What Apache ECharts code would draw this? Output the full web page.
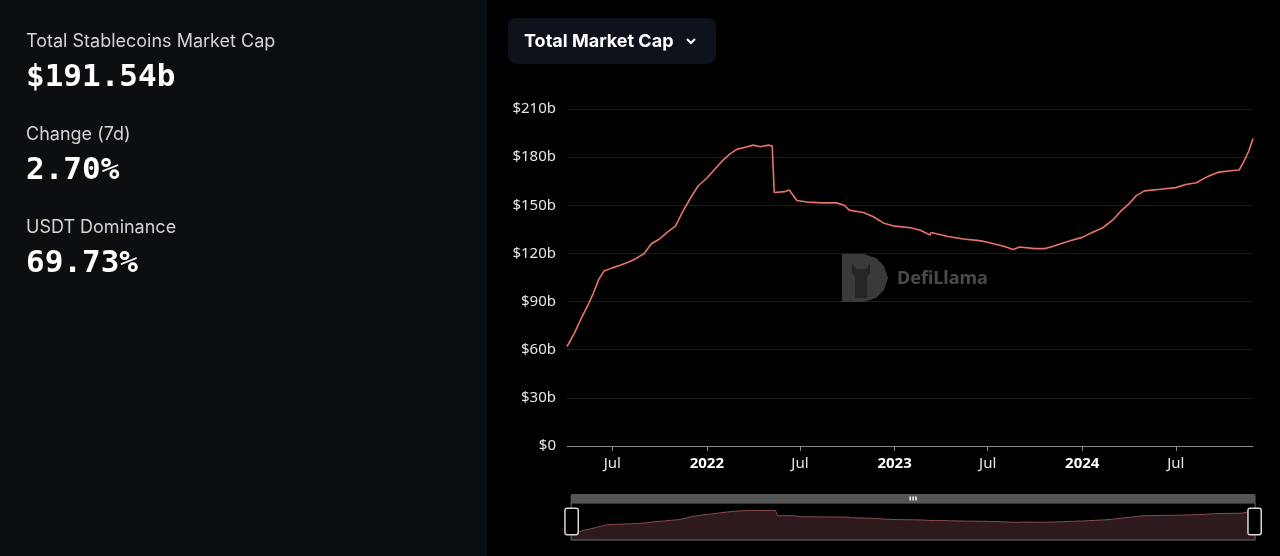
<!DOCTYPE html>
<html><head><meta charset="utf-8">
<script src="https://cdn.jsdelivr.net/npm/echarts@6/dist/echarts.min.js"></script>
<style>html,body{margin:0;padding:0;background:#000;}#c{width:1280px;height:556px;}</style>
</head><body><div id="c"></div>
<script>
const dates = ['2021-04-04','2021-04-18','2021-05-01','2021-05-15','2021-05-25','2021-06-05','2021-06-15','2021-07-01','2021-07-15','2021-08-01','2021-08-15','2021-09-01','2021-09-15','2021-10-01','2021-10-15','2021-11-01','2021-11-15','2021-12-01','2021-12-15','2022-01-01','2022-01-15','2022-02-01','2022-02-15','2022-03-01','2022-03-15','2022-04-01','2022-04-15','2022-05-01','2022-05-08','2022-05-12','2022-06-01','2022-06-10','2022-06-25','2022-07-15','2022-08-15','2022-09-10','2022-09-25','2022-10-05','2022-11-01','2022-11-20','2022-12-10','2023-01-01','2023-02-01','2023-02-20','2023-03-11','2023-03-13','2023-04-15','2023-05-15','2023-06-15','2023-07-01','2023-08-01','2023-08-20','2023-09-01','2023-10-01','2023-10-20','2023-11-01','2023-11-20','2023-12-10','2024-01-01','2024-01-20','2024-02-10','2024-03-01','2024-03-15','2024-04-01','2024-04-15','2024-05-01','2024-06-01','2024-07-01','2024-07-20','2024-08-10','2024-09-01','2024-09-20','2024-10-15','2024-11-01','2024-11-10','2024-11-20','2024-11-28'];
const marketCap = [62,70,79,88,95,104,109,111,112.5,114.5,116.5,120,126,129,133,137,146,155,162,167,172,178,182,185,186,187.5,186.5,187.5,187,158,158.5,159.5,153,152,151.5,151.5,150,147,145.5,143,139,137,136,134.5,131.5,133,130.5,129,128,127,124.5,122.5,124,123,123,124,126,128,130,133,136,141,146,151,156,159,160,161,163,164,168,170.5,171.5,172,177,184,191.54];
const yTicks = [0,30,60,90,120,150,180,210];
const stats = [
  {label:'Total Stablecoins Market Cap', value:'$191.54b'},
  {label:'Change (7d)', value:'2.70%'},
  {label:'USDT Dominance', value:'69.73%'}
];
const selectorLabel = 'Total Market Cap';
const monthNames = ['Jan','Feb','Mar','Apr','May','Jun','Jul','Aug','Sep','Oct','Nov','Dec'];

const seriesData = dates.map((d,i)=>[d, marketCap[i]]);
const chart = echarts.init(document.getElementById('c'), null, {renderer:'canvas'});

const graphics = [
  {type:'rect', shape:{x:0, y:0, width:487, height:556}, style:{fill:'#0b0f11'}, silent:true, z:-10},
  {type:'rect', shape:{x:508, y:18, width:208, height:46, r:8}, style:{fill:'#0e131b'}, z:5},
  {type:'text', x:524, y:33, style:{text:selectorLabel, fill:'#ffffff', font:'bold 18px "Inter", "Noto Sans", sans-serif'}, z:6},
  {type:'polyline', shape:{points:[[687,39],[691,43],[695,39]]}, style:{stroke:'#ffffff', lineWidth:2, fill:null}, z:6},
  // watermark
  {type:'polygon', shape:{points:[[842,254],[864,254],[876,258],[884,266],[888,278],[884,290],[876,298],[864,302],[842,302]]}, style:{fill:'#3a3a3a'}, silent:true, z:1},
  {type:'polygon', shape:{points:[[852,263],[856,269],[866,269],[870,263],[870,273],[867,277],[867,298],[855,298],[855,277],[852,273]]}, style:{fill:'#262626'}, silent:true, z:1},
  {type:'text', x:897, y:270, style:{text:'DefiLlama', fill:'#4a4a4a', font:'bold 18px "Noto Sans", "DejaVu Sans", sans-serif'}, silent:true, z:1}
];
stats.forEach((s,i)=>{
  const y0 = 33 + i*93;
  graphics.push({type:'text', x:26, y:y0, style:{text:s.label, fill:'#d4d4d4', font:'18px "Inter", "Noto Sans", sans-serif'}});
  graphics.push({type:'text', x:26, y:y0+29, style:{text:s.value, fill:'#ffffff', font:'bold 31px "DejaVu Sans Mono", monospace'}});
});

chart.setOption({
  backgroundColor:'#000000',
  animation:false,
  graphic: graphics,
  grid:{left:567, right:27, top:109, bottom:110},
  xAxis:{
    type:'time',
    min:'dataMin', max:'dataMax',
    splitNumber:7,
    minInterval:3600*24*1000*180,
    maxInterval:3600*24*1000*186,
    axisLine:{show:true, lineStyle:{color:'#8a8a8a', width:1}},
    axisTick:{show:true, length:5, lineStyle:{color:'#8a8a8a'}},
    splitLine:{show:false},
    axisLabel:{
      color:'#e6e6e6', fontSize:15, margin:10, fontFamily:'"Noto Sans", sans-serif',
      hideOverlap:false,
      formatter:function(val){
        const d = new Date(val);
        if (d.getMonth()===0) return '{y|'+d.getFullYear()+'}';
        return monthNames[d.getMonth()];
      },
      rich:{y:{fontWeight:'bold', fontSize:15, color:'#ffffff', fontFamily:'"Noto Sans", sans-serif'}}
    }
  },
  yAxis:{
    type:'value', min:yTicks[0], max:yTicks[yTicks.length-1], interval:30,
    axisLine:{show:false}, axisTick:{show:false},
    splitLine:{lineStyle:{color:'#1c1c1c', width:1}},
    axisLabel:{color:'#e6e6e6', fontSize:15, margin:11, fontFamily:'"Noto Sans", sans-serif',
      formatter:function(v){return v===0 ? '$0' : '$'+v+'b';}}
  },
  dataZoom:[{
    type:'slider', xAxisIndex:0, left:567, right:28, top:494, height:38,
    start:0, end:100,
    showDetail:false,
    borderColor:'#6a6a6a',
    backgroundColor:'rgba(0,0,0,0)',
    fillerColor:'rgba(0,0,0,0)',
    dataBackground:{lineStyle:{color:'#8a4a4a', width:1, opacity:1}, areaStyle:{color:'#2e1a1c', opacity:1}},
    selectedDataBackground:{lineStyle:{color:'#8a4a4a', width:1, opacity:1}, areaStyle:{color:'#2e1a1c', opacity:1}},
    handleIcon:'path://M-4,-12 L4,-12 Q6,-12 6,-10 L6,10 Q6,12 4,12 L-4,12 Q-6,12 -6,10 L-6,-10 Q-6,-12 -4,-12 Z',
    handleSize:'70%',
    handleStyle:{color:'#000', borderColor:'#d8d8d8', borderWidth:1.5},
    moveHandleSize:9,
    moveHandleStyle:{color:'#555555', opacity:1},
    emphasis:{moveHandleStyle:{color:'#555555'}}
  }],
  series:[{
    type:'line', data:seriesData, showSymbol:false, symbol:'none',
    lineStyle:{color:'#e8726c', width:1.6},
    z:3
  }]
});
</script></body></html>
